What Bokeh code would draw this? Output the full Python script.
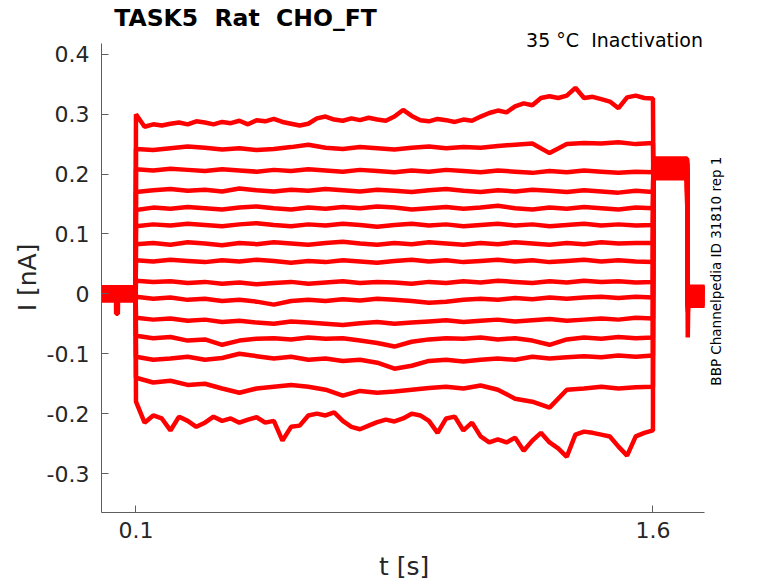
from bokeh.plotting import figure
from bokeh.models import Range1d, FixedTicker, Label
from bokeh.embed import file_html
from bokeh.resources import INLINE
import math

# ---------------- data ----------------
NBSP = "\u00a0"
THIN = "\u2009"
TITLE = "TASK5" + NBSP + " Rat" + NBSP + " CHO_FT"
SUBTITLE = "35 °C" + NBSP + " Inactivation"
SIDE_NOTE = "BBP Channelpedia ID 31810 rep 1"
X_LABEL = "t [s]"
Y_LABEL = "I [nA]"
X_TICKS = [0.1, 1.6]
X_TICK_LABELS = ["0.1", "1.6"]
Y_TICKS = [-0.3, -0.2, -0.1, 0.0, 0.1, 0.2, 0.3, 0.4]
Y_TICK_LABELS = ["-0.3", "-0.2", "-0.1", "0", "0.1", "0.2", "0.3", "0.4"]

# axis extents (s, nA)
X_AXIS_BOUNDS = (0.0, 1.75)
Y_AXIS_BOUNDS = (-0.365, 0.418)

# sample times (s)
T_HOLD = [0.000, 0.099]
T_HOLD_DIP = [0.000, 0.042, 0.0425, 0.0475, 0.048, 0.099]
T_STEP = [0.10, 0.15, 0.20, 0.25, 0.30, 0.35, 0.40, 0.45, 0.50, 0.55,
          0.60, 0.65, 0.70, 0.75, 0.80, 0.85, 0.90, 0.95, 1.00, 1.05,
          1.10, 1.15, 1.20, 1.25, 1.30, 1.35, 1.40, 1.45, 1.50, 1.55, 1.60]
T_FINE = [0.100, 0.125, 0.150, 0.175, 0.200, 0.225, 0.250, 0.275, 0.300, 0.325,
          0.350, 0.375, 0.400, 0.425, 0.450, 0.475, 0.500, 0.525, 0.550, 0.575,
          0.600, 0.625, 0.650, 0.675, 0.700, 0.725, 0.750, 0.775, 0.800, 0.825,
          0.850, 0.875, 0.900, 0.925, 0.950, 0.975, 1.000, 1.025, 1.050, 1.075,
          1.100, 1.125, 1.150, 1.175, 1.200, 1.225, 1.250, 1.275, 1.300, 1.325,
          1.350, 1.375, 1.400, 1.425, 1.450, 1.475, 1.500, 1.525, 1.550, 1.575, 1.600]
T_TAIL = [1.601, 1.699]
T_END = [1.701, 1.703, 1.750]

# holding current before the step (nA), one per sweep
HOLD_LEVEL = [0.010, -0.008, 0.004, -0.002, 0.008, -0.011, 0.001, 0.006,
              -0.005, -0.009, 0.003, 0.011, -0.004, -0.001, 0.007]
HOLD_DIP_I = -0.033          # brief dip in one sweep near t = 0.045 s
HOLD_DIP_SWEEP = 9
# tail current after the step (nA)
TAIL_LEVEL = [0.224, 0.196, 0.218, 0.201, 0.212, 0.193, 0.221, 0.206,
              0.215, 0.199, 0.209, 0.226, 0.203, 0.217, 0.197]
# current after returning to holding (nA)
END_FIRST = [-0.073, -0.030, -0.012, -0.020, 0.005, -0.025, -0.006, -0.015,
             0.002, -0.018, -0.004, -0.022, 0.006, -0.010, -0.016]
END_LEVEL = [0.010, -0.015, 0.004, -0.008, 0.012, -0.020, 0.001, -0.004,
             0.007, -0.012, 0.003, -0.017, 0.009, -0.002, -0.010]

# step currents (nA)
I_SWEEP_01 = [0.300, 0.279, 0.283, 0.281, 0.284, 0.286, 0.283, 0.288, 0.286, 0.283,
              0.287, 0.285, 0.289, 0.283, 0.290, 0.288, 0.292, 0.287, 0.284, 0.281,
              0.284, 0.293, 0.296, 0.291, 0.289, 0.293, 0.290, 0.294, 0.291, 0.289,
              0.296, 0.307, 0.297, 0.290, 0.288, 0.292, 0.290, 0.287, 0.291, 0.289,
              0.296, 0.302, 0.306, 0.303, 0.313, 0.318, 0.315, 0.327, 0.330, 0.327,
              0.331, 0.344, 0.327, 0.329, 0.325, 0.321, 0.310, 0.328, 0.331, 0.327, 0.326]
I_SWEEP_02 = [0.242, 0.240, 0.243, 0.246, 0.244, 0.241, 0.243, 0.240, 0.242, 0.245,
              0.249, 0.244, 0.242, 0.245, 0.243, 0.241, 0.244, 0.246, 0.243, 0.245,
              0.244, 0.247, 0.249, 0.251, 0.235, 0.250, 0.252, 0.251, 0.253, 0.250, 0.252]
I_SWEEP_03 = [0.208, 0.206, 0.209, 0.207, 0.205, 0.208, 0.206, 0.204, 0.207, 0.205,
              0.208, 0.206, 0.204, 0.207, 0.205, 0.203, 0.206, 0.204, 0.207, 0.205,
              0.203, 0.206, 0.204, 0.202, 0.205, 0.203, 0.206, 0.204, 0.202, 0.204, 0.203]
I_SWEEP_04 = [0.170, 0.173, 0.175, 0.172, 0.174, 0.171, 0.176, 0.173, 0.171, 0.174,
              0.172, 0.175, 0.173, 0.171, 0.174, 0.172, 0.170, 0.173, 0.175, 0.172,
              0.170, 0.173, 0.171, 0.174, 0.172, 0.170, 0.173, 0.171, 0.169, 0.172, 0.170]
I_SWEEP_05 = [0.140, 0.144, 0.142, 0.145, 0.143, 0.141, 0.144, 0.146, 0.143, 0.141,
              0.144, 0.142, 0.145, 0.143, 0.146, 0.144, 0.141, 0.143, 0.145, 0.142,
              0.144, 0.147, 0.143, 0.141, 0.144, 0.142, 0.145, 0.143, 0.141, 0.144, 0.143]
I_SWEEP_06 = [0.113, 0.116, 0.114, 0.117, 0.115, 0.113, 0.116, 0.118, 0.115, 0.113,
              0.116, 0.114, 0.117, 0.115, 0.112, 0.115, 0.117, 0.114, 0.116, 0.113,
              0.115, 0.117, 0.114, 0.116, 0.113, 0.115, 0.117, 0.114, 0.116, 0.114, 0.115]
I_SWEEP_07 = [0.083, 0.085, 0.082, 0.086, 0.084, 0.081, 0.085, 0.083, 0.086, 0.084,
              0.082, 0.085, 0.087, 0.084, 0.082, 0.085, 0.083, 0.086, 0.084, 0.082,
              0.085, 0.083, 0.086, 0.084, 0.082, 0.085, 0.083, 0.086, 0.084, 0.085, 0.085]
I_SWEEP_08 = [0.056, 0.054, 0.057, 0.055, 0.053, 0.056, 0.054, 0.057, 0.055, 0.052,
              0.055, 0.053, 0.056, 0.054, 0.052, 0.055, 0.057, 0.054, 0.056, 0.053,
              0.055, 0.057, 0.054, 0.056, 0.053, 0.055, 0.057, 0.054, 0.056, 0.054, 0.053]
I_SWEEP_09 = [0.022, 0.020, 0.021, 0.018, 0.020, 0.017, 0.019, 0.016, 0.018, 0.020,
              0.017, 0.019, 0.021, 0.018, 0.020, 0.019, 0.017, 0.020, 0.018, 0.021,
              0.019, 0.022, 0.020, 0.018, 0.021, 0.019, 0.022, 0.020, 0.021, 0.019, 0.020]
I_SWEEP_10 = [-0.005, -0.008, -0.006, -0.010, -0.008, -0.012, -0.010, -0.013, -0.018, -0.012,
              -0.010, -0.012, -0.009, -0.011, -0.008, -0.010, -0.012, -0.015, -0.013, -0.010,
              -0.008, -0.010, -0.007, -0.009, -0.006, -0.008, -0.006, -0.005, -0.007, -0.005, -0.006]
I_SWEEP_11 = [-0.040, -0.043, -0.041, -0.045, -0.043, -0.047, -0.045, -0.048, -0.050, -0.046,
              -0.048, -0.050, -0.052, -0.049, -0.047, -0.050, -0.048, -0.046, -0.044, -0.047,
              -0.045, -0.043, -0.046, -0.044, -0.042, -0.045, -0.043, -0.041, -0.043, -0.040, -0.041]
I_SWEEP_12 = [-0.070, -0.074, -0.072, -0.078, -0.076, -0.085, -0.078, -0.075, -0.074, -0.076,
              -0.073, -0.075, -0.074, -0.078, -0.082, -0.088, -0.080, -0.076, -0.074, -0.075,
              -0.073, -0.076, -0.074, -0.078, -0.085, -0.076, -0.073, -0.075, -0.072, -0.074, -0.073]
I_SWEEP_13 = [-0.105, -0.110, -0.108, -0.105, -0.110, -0.107, -0.100, -0.104, -0.108, -0.105,
              -0.110, -0.108, -0.112, -0.110, -0.115, -0.125, -0.120, -0.112, -0.110, -0.113,
              -0.110, -0.108, -0.110, -0.105, -0.108, -0.106, -0.104, -0.106, -0.103, -0.105, -0.103]
I_SWEEP_14 = [-0.140, -0.148, -0.145, -0.152, -0.150, -0.158, -0.165, -0.158, -0.155, -0.152,
              -0.155, -0.160, -0.170, -0.162, -0.165, -0.163, -0.160, -0.157, -0.155, -0.158,
              -0.153, -0.160, -0.175, -0.180, -0.190, -0.160, -0.158, -0.155, -0.158, -0.156, -0.155]
I_SWEEP_15 = [-0.180, -0.215, -0.203, -0.208, -0.228, -0.205, -0.212, -0.222, -0.215, -0.205,
              -0.212, -0.208, -0.215, -0.210, -0.206, -0.215, -0.212, -0.245, -0.222, -0.220,
              -0.203, -0.200, -0.203, -0.198, -0.212, -0.222, -0.226, -0.220, -0.214, -0.210,
              -0.213, -0.208, -0.200, -0.203, -0.212, -0.232, -0.208, -0.205, -0.228, -0.215,
              -0.238, -0.248, -0.243, -0.248, -0.240, -0.262, -0.245, -0.232, -0.248, -0.258,
              -0.272, -0.235, -0.230, -0.232, -0.235, -0.238, -0.255, -0.270, -0.238, -0.232, -0.228]

SWEEPS = [(T_FINE, I_SWEEP_01), (T_STEP, I_SWEEP_02), (T_STEP, I_SWEEP_03),
          (T_STEP, I_SWEEP_04), (T_STEP, I_SWEEP_05), (T_STEP, I_SWEEP_06),
          (T_STEP, I_SWEEP_07), (T_STEP, I_SWEEP_08), (T_STEP, I_SWEEP_09),
          (T_STEP, I_SWEEP_10), (T_STEP, I_SWEEP_11), (T_STEP, I_SWEEP_12),
          (T_STEP, I_SWEEP_13), (T_STEP, I_SWEEP_14), (T_FINE, I_SWEEP_15)]

# ---------------- figure ----------------
FONT = "DejaVu Sans"
TEXT_COLOR = "#262626"
AXIS_COLOR = "#5e5e5e"
TRACE_COLOR = "#ff0000"

# the frame is larger than the drawn axes so the texts that sit beyond the
# axes (title, subtitle, side note) are not clipped
p = figure(title=None, frame_width=629, frame_height=504,
           x_range=Range1d(0.0, 1.825), y_range=Range1d(-0.365, 0.4764),
           output_backend="svg", toolbar_location=None,
           min_border_left=101, min_border_right=44,
           min_border_top=8, min_border_bottom=66)
p.outline_line_color = None
p.xgrid.grid_line_color = None
p.ygrid.grid_line_color = None
p.background_fill_color = "white"
p.border_fill_color = "white"

for ax, ticks, labels, bounds in ((p.xaxis[0], X_TICKS, X_TICK_LABELS, X_AXIS_BOUNDS),
                                  (p.yaxis[0], Y_TICKS, Y_TICK_LABELS, Y_AXIS_BOUNDS)):
    ax.ticker = FixedTicker(ticks=ticks)
    ax.major_label_overrides = {t: l for t, l in zip(ticks, labels)}
    ax.bounds = bounds
    ax.minor_tick_line_color = None
    ax.major_tick_in = 7
    ax.major_tick_out = 0
    ax.axis_line_color = AXIS_COLOR
    ax.major_tick_line_color = AXIS_COLOR
    ax.major_label_text_font = FONT
    ax.major_label_text_font_size = "22px"
    ax.major_label_text_color = TEXT_COLOR
    ax.axis_label_text_font = FONT
    ax.axis_label_text_font_size = "25px"
    ax.axis_label_text_font_style = "normal"
    ax.axis_label_text_color = TEXT_COLOR

# axis labels are centred on the (wider) frame; trailing blank padding puts
# their visible part back at the centre of the drawn axes
p.xaxis.axis_label = X_LABEL + NBSP * 3
p.yaxis.axis_label = Y_LABEL + NBSP * 3 + THIN * 2
p.xaxis.major_label_standoff = 9
p.yaxis.major_label_standoff = 12
p.xaxis.axis_label_standoff = 11
p.yaxis.axis_label_standoff = 2

for k, (t_step, i_step) in enumerate(SWEEPS):
    if k == HOLD_DIP_SWEEP:
        t_hold = T_HOLD_DIP
        i_hold = [HOLD_LEVEL[k], HOLD_LEVEL[k], HOLD_DIP_I, HOLD_DIP_I, HOLD_LEVEL[k], HOLD_LEVEL[k]]
    else:
        t_hold = T_HOLD
        i_hold = [HOLD_LEVEL[k]] * len(T_HOLD)
    xs = list(t_hold) + list(t_step) + list(T_TAIL) + list(T_END)
    ys = (i_hold + list(i_step) + [TAIL_LEVEL[k]] * len(T_TAIL)
          + [END_FIRST[k], END_LEVEL[k], END_LEVEL[k]])
    p.line(xs, ys, line_color=TRACE_COLOR, line_width=4.5)

p.add_layout(Label(x=0.037, y=0.4608, text=TITLE, text_align="left",
                   text_baseline="middle", text_font=FONT,
                   text_font_size="23.5px", text_font_style="bold", text_color="black"))
p.add_layout(Label(x=1.745, y=0.4232, text=SUBTITLE, text_align="right",
                   text_baseline="middle", text_font=FONT,
                   text_font_size="19px", text_color="black"))
p.add_layout(Label(x=1.782, y=0.038, text=SIDE_NOTE, angle=math.pi / 2,
                   text_align="center", text_baseline="middle", text_font=FONT,
                   text_font_size="13.5px", text_color="black"))

open("out.html", "w").write(file_html(p, INLINE))
